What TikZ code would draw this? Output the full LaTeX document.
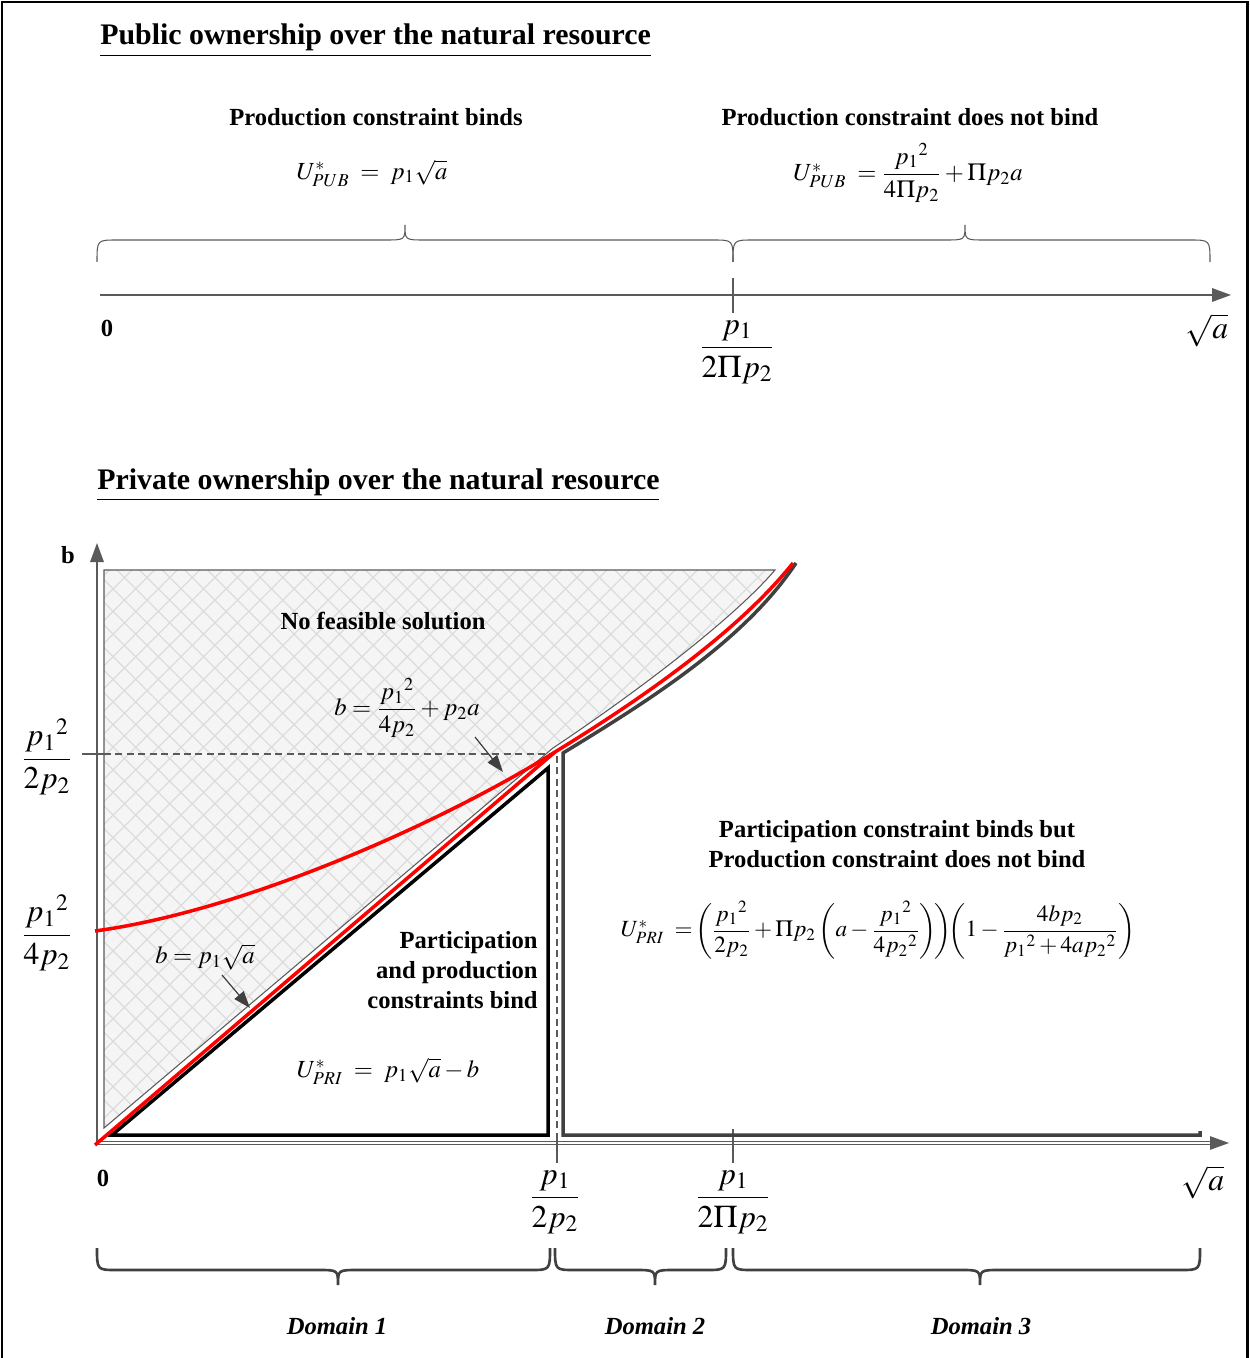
\documentclass[tikz,border=0pt]{standalone}
\usepackage{amsmath}
\usepackage{mathptmx}
\usepackage[no-math]{fontspec}
\setmainfont{Liberation Serif}
\usetikzlibrary{arrows.meta,patterns.meta}
\definecolor{dk}{HTML}{404040}
\definecolor{ax}{HTML}{5A5A5A}
\definecolor{hl}{HTML}{DCDCDC}
\definecolor{hb}{HTML}{F5F5F5}
\newcommand\mybrace[7]{%
  \draw[#7] (#1,#4) .. controls (#1,#5) .. (#1+20,#5) -- (#3-20,#5)
    .. controls (#3,#5) .. (#3,#6) .. controls (#3,#5) .. (#3+20,#5)
    -- (#2-20,#5) .. controls (#2,#5) .. (#2,#4);}
\begin{document}
\begin{tikzpicture}[x=0.02cm,y=-0.02cm,
  txt/.style={inner sep=0pt,font=\fontsize{14}{17}\selectfont\bfseries},
  ttl/.style={inner sep=0pt,font=\fontsize{17}{20}\selectfont\bfseries},
  fml/.style={inner sep=0pt,font=\fontsize{14}{17}\selectfont},
  bigf/.style={inner sep=0pt,font=\fontsize{13.2}{16}\selectfont},
  big/.style={inner sep=0pt,font=\fontsize{18}{22}\selectfont},
  dom/.style={inner sep=0pt,font=\fontsize{14}{17}\selectfont\bfseries\itshape},
  axis/.style={ax,line width=0.9pt,-{Triangle[length=0.38cm,width=0.27cm]}},
  thinb/.style={ax,line width=0.6pt},
  thickb/.style={dk,line width=1.5pt},
  ptr/.style={dk,line width=0.7pt,-{Triangle[length=0.34cm,width=0.24cm]}},
  redl/.style={red,line width=2pt},
  darkl/.style={dk,line width=2pt},
  blk/.style={black,line width=2pt}]
\useasboundingbox (0,0) rectangle (1249,1358);
% frame
\draw[black,line width=1.7pt] (2,1358) -- (2,2) -- (1247,2) -- (1247,1358);

% ---------------- top part
\node[ttl,anchor=base west] (t1) at (100,45) {\underline{Public ownership over the natural resource}};
\node[txt,anchor=base] (h1) at (376,126) {Production constraint binds};
\node[txt,anchor=base] (h2) at (910,126) {Production constraint does not bind};
\node[fml] (f1) at (372,173) {$U^{*}_{PUB}\;=\;p_1\sqrt{a}$};
\node[fml] (f2) at (908,173) {$U^{*}_{PUB}\;=\dfrac{p_1{}^{2}}{4\Pi p_2}+\Pi p_2 a$};
\mybrace{97}{733}{405}{262}{240}{225}{thinb}
\mybrace{733}{1210}{965}{262}{240}{225}{thinb}
\coordinate (ta0) at (100,295);
\coordinate (ta1) at (1231,295);
\draw[axis] (ta0) -- (ta1);
\coordinate (tk0) at (733,278);
\coordinate (tk1) at (733,313);
\draw[thinb] (tk0) -- (tk1);
\node[txt] (z1) at (107,328) {0};
\node[big] (x1) at (737,352) {$\dfrac{p_1}{2\Pi p_2}$};
\node[big] (ra1) at (1207,330) {$\sqrt{a}$};

% ---------------- bottom part
\node[ttl,anchor=base west] (t2) at (97,489) {\underline{Private ownership over the natural resource}};

% hatched infeasible region
\path[fill=hb] (104,570) -- (775,570) .. controls (735,617) and (640,690) .. (553,748) -- (104,1128) -- cycle;
\path[pattern={Lines[angle=45,distance=0.32cm,line width=0.7pt]},pattern color=hl] (104,570) -- (775,570) .. controls (735,617) and (640,690) .. (553,748) -- (104,1128) -- cycle;
\path[pattern={Lines[angle=-45,distance=0.32cm,line width=0.7pt]},pattern color=hl] (104,570) -- (775,570) .. controls (735,617) and (640,690) .. (553,748) -- (104,1128) -- cycle;
\draw[ax,line width=0.6pt] (104,570) -- (775,570) .. controls (735,617) and (640,690) .. (553,748) -- (104,1128) -- cycle;

% axes
\coordinate (o) at (97,1143);
\coordinate (by) at (97,543);
\coordinate (bx) at (1229,1143);
\draw[axis] (o) -- (by);
\draw[ax,line width=0.6pt,double=white,double distance=0.9pt,-{Triangle[length=0.38cm,width=0.27cm]}] (o) -- (bx);
\node[txt] (bl) at (68,555) {b};

% dashed guide lines
\draw[ax,line width=0.6pt] (82,754) -- (104,754);
\draw[ax,line width=0.6pt,dash pattern=on 4pt off 2.5pt] (104,754) -- (550,754);
\draw[ax,line width=0.6pt,dash pattern=on 4pt off 2.5pt] (557,756) -- (557,1135);
\draw[ax,line width=0.6pt] (557,1135) -- (557,1163);
\draw[ax,line width=0.6pt] (733,1129) -- (733,1163);

% black triangle (domain 1)
\draw[blk,line join=miter] (112,1135) -- (548,1135) -- (548,768) -- cycle;
% dark gray boundary (domains 2,3)
\draw[darkl,line join=miter] (1200,1131) -- (1200,1135) -- (563,1135) -- (563,753)
   .. controls (650,700) and (745,640) .. (796,563);
% red curves
\draw[redl] (95,1145) -- (555,752) .. controls (640,700) and (738,632) .. (793,563);
\draw[redl] (95,931) .. controls (250,910) and (450,818) .. (555,752);

% labels
\node[txt,anchor=base] (nf) at (383,629) {No feasible solution};
\node[fml] (bf) at (407,708) {$b=\dfrac{p_1{}^{2}}{4p_2}+p_2a$};
\coordinate (a1s) at (475,737);
\coordinate (a1e) at (503,772);
\draw[ptr] (a1s) -- (a1e);
\node[fml] (bl2) at (205,957) {$b=p_1\sqrt{a}$};
\coordinate (a2s) at (222,975);
\coordinate (a2e) at (250,1008);
\draw[ptr] (a2s) -- (a2e);
\node[big] (yl1) at (47,757) {$\dfrac{p_1{}^{2}}{2p_2}$};
\node[big] (yl2) at (47,933) {$\dfrac{p_1{}^{2}}{4p_2}$};
\node[txt,anchor=base east] (pc1) at (538,948) {Participation};
\node[txt,anchor=base east] (pc2) at (538,978) {and production};
\node[txt,anchor=base east] (pc3) at (538,1008) {constraints bind};
\node[fml] (up1) at (388,1071) {$U^{*}_{PRI}\;=\;p_1\sqrt{a}-b$};
\node[txt,anchor=base] (pb1) at (897,837) {Participation constraint binds but};
\node[txt,anchor=base] (pb2) at (897,867) {Production constraint does not bind};
\node[bigf] (up2) at (878,930) {$U^{*}_{PRI}\;=\!\left(\dfrac{p_1{}^{2}}{2p_2}+\Pi p_2\left(a-\dfrac{p_1{}^{2}}{4p_2{}^{2}}\right)\!\right)\!\!\left(1-\dfrac{4bp_2}{p_1{}^{2}+4ap_2{}^{2}}\right)$};

\node[txt] (z2) at (103,1178) {0};
\node[big] (x2) at (555,1202) {$\dfrac{p_1}{2p_2}$};
\node[big] (x3) at (733,1202) {$\dfrac{p_1}{2\Pi p_2}$};
\node[big] (ra2) at (1203,1182) {$\sqrt{a}$};

\mybrace{97}{550}{338}{1248}{1270}{1285}{thickb}
\mybrace{555}{726}{655}{1248}{1270}{1285}{thickb}
\mybrace{733}{1200}{980}{1248}{1270}{1285}{thickb}
\node[dom] (d1) at (337,1326) {Domain 1};
\node[dom] (d2) at (655,1326) {Domain 2};
\node[dom] (d3) at (981,1326) {Domain 3};
\end{tikzpicture}
\end{document}
